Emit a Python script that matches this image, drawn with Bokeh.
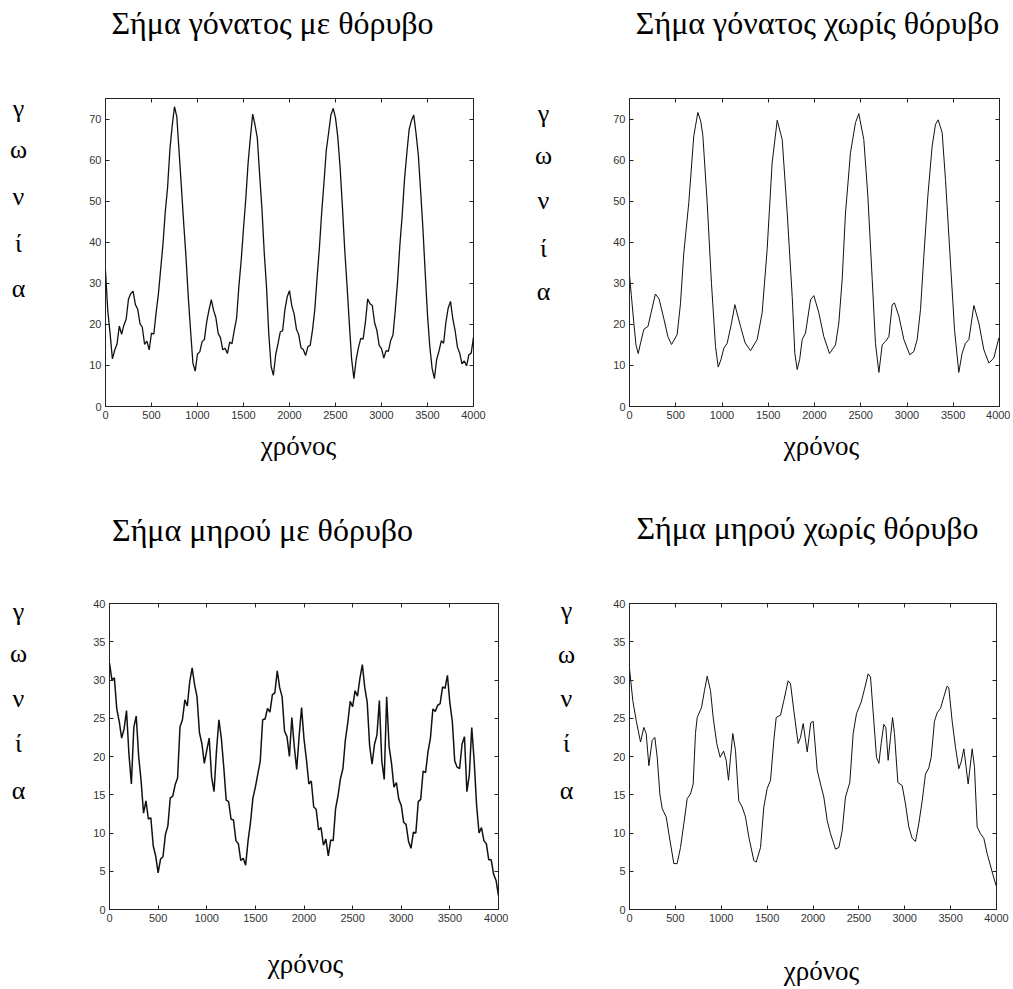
from bokeh.plotting import figure
from bokeh.models import LinearAxis, FixedTicker, Range1d
from bokeh.core.properties import value
from bokeh.layouts import column, row
from bokeh.embed import file_html
from bokeh.resources import INLINE

# ---------------- data ----------------
x_ticks = [0, 500, 1000, 1500, 2000, 2500, 3000, 3500, 4000]
knee_y_ticks = [0, 10, 20, 30, 40, 50, 60, 70]
thigh_y_ticks = [0, 5, 10, 15, 20, 25, 30, 35, 40]

titles = ["Σήμα γόνατος με θόρυβο", "Σήμα γόνατος χωρίς θόρυβο",
          "Σήμα μηρού με θόρυβο", "Σήμα μηρού χωρίς θόρυβο"]
y_letters = ["γ", "ω", "ν", "ί", "α"]
x_label = "χρόνος"

# noisy signals sampled every 25 time units (0 .. 4000)
noisy_time = list(range(0, 4001, 25))
knee_noisy = [
    33.0, 23.2, 17.8, 11.6, 13.7, 15.2, 19.6, 17.6,
    19.8, 21.3, 26.2, 27.5, 28.1, 24.8, 23.7, 20.2,
    19.3, 15.1, 15.9, 13.8, 17.9, 17.6, 22.8, 27.4,
    33.5, 39.6, 47.5, 53.4, 62.6, 68.4, 73.0, 70.6,
    62.0, 53.4, 44.6, 36.4, 26.6, 18.4, 10.6, 8.6,
    12.8, 13.3, 15.8, 16.3, 20.6, 23.5, 26.0, 23.4,
    21.6, 17.8, 16.7, 13.8, 14.2, 12.9, 15.7, 15.3,
    18.6, 21.5, 29.3, 35.6, 43.4, 50.6, 59.3, 65.5,
    71.2, 68.6, 65.4, 56.6, 48.3, 37.6, 29.2, 17.6,
    9.8, 7.6, 12.6, 15.3, 18.2, 18.4, 23.6, 26.7,
    28.2, 24.5, 22.6, 18.9, 17.5, 14.3, 13.9, 12.4,
    14.6, 14.9, 18.6, 23.6, 31.4, 38.6, 47.3, 54.6,
    62.4, 66.6, 71.0, 72.6, 70.3, 65.6, 58.2, 48.7,
    38.3, 29.6, 20.3, 11.6, 6.8, 11.5, 14.4, 16.6,
    16.4, 20.5, 26.2, 25.0, 24.6, 20.4, 18.5, 14.9,
    14.1, 11.8, 13.6, 13.4, 16.1, 17.4, 23.5, 30.6,
    39.4, 46.6, 55.3, 61.6, 67.4, 69.6, 71.0, 66.6,
    61.3, 52.6, 43.4, 32.6, 22.3, 14.6, 9.3, 6.8,
    11.5, 13.5, 16.0, 15.4, 20.5, 24.0, 25.6, 21.4,
    18.5, 14.5, 13.0, 10.4, 11.1, 9.9, 12.6, 13.0,
    16.9,
]
thigh_noisy = [
    32.2, 30.0, 30.3, 26.2, 24.6, 22.4, 23.6, 26.0,
    20.3, 16.4, 23.8, 25.3, 20.0, 16.8, 12.6, 14.2,
    11.8, 12.0, 8.3, 7.0, 4.8, 6.6, 6.9, 9.8,
    10.9, 14.6, 14.8, 16.3, 17.2, 23.9, 24.8, 27.4,
    26.6, 29.8, 31.6, 29.4, 27.8, 23.1, 21.7, 19.1,
    20.8, 22.4, 17.3, 15.4, 20.7, 24.8, 22.4, 18.6,
    14.3, 14.1, 11.8, 11.7, 9.0, 8.6, 6.4, 6.7,
    5.8, 9.0, 11.4, 14.6, 16.0, 17.7, 19.4, 24.8,
    24.9, 26.3, 25.8, 28.1, 28.3, 31.2, 29.0, 27.8,
    23.3, 22.6, 20.0, 25.1, 21.3, 18.3, 22.7, 26.4,
    22.3, 19.6, 16.4, 16.8, 13.4, 13.1, 10.4, 10.7,
    8.4, 9.2, 7.0, 9.1, 9.0, 13.2, 14.9, 17.1,
    18.4, 22.1, 24.4, 27.2, 26.5, 28.6, 27.9, 30.2,
    32.0, 29.0, 27.1, 21.4, 19.0, 21.6, 22.8, 27.3,
    19.4, 17.0, 27.8, 21.3, 19.1, 16.0, 16.6, 14.4,
    13.6, 11.4, 11.1, 8.9, 8.0, 10.1, 10.0, 14.1,
    14.4, 18.1, 17.9, 20.6, 22.4, 26.2, 25.9, 26.7,
    26.9, 29.1, 28.9, 30.6, 27.0, 24.6, 19.4, 18.6,
    18.4, 21.6, 22.6, 15.4, 17.6, 23.8, 19.4, 13.6,
    10.0, 10.7, 9.0, 8.6, 6.5, 6.5, 4.6, 3.8,
    1.8,
]

knee_clean_t = [0, 20, 47, 70, 94, 120, 155, 200, 235, 280, 320, 370, 415, 455,
                515, 551, 587, 641, 695, 739, 770, 793, 840, 886, 930, 959, 990,
                1020, 1056, 1103, 1139, 1200, 1250, 1308, 1380, 1434, 1488, 1542,
                1597, 1651, 1705, 1759, 1787, 1813, 1840, 1867, 1903, 1957, 1993,
                2047, 2101, 2162, 2227, 2263, 2299, 2335, 2389, 2443, 2479, 2533,
                2577, 2624, 2659, 2696, 2732, 2768, 2804, 2840, 2865, 2912, 2966,
                3030, 3074, 3110, 3146, 3182, 3225, 3272, 3308, 3337, 3380, 3416,
                3470, 3514, 3560, 3596, 3632, 3669, 3723, 3777, 3831, 3885, 3939,
                3993]
knee_clean = [32, 27, 20.3, 15, 12.9, 15.5, 18.8, 19.5, 23, 27.4, 26.2, 21.5, 17,
              15.1, 17.5, 25, 37.4, 49.6, 65.9, 71.6, 69.5, 66, 49.6, 30, 14.6,
              9.6, 11.5, 14.2, 15.4, 20.3, 24.8, 19.5, 15.5, 13.6, 16.3, 22.8,
              38.2, 59.3, 69.7, 65, 47.1, 26.8, 13, 9, 11.5, 16.3, 17.9, 26, 27,
              22.8, 17, 12.9, 15, 20.3, 30.9, 47.1, 61.8, 69.1, 71.3, 65, 51.2,
              30.9, 15.4, 8.3, 15, 15.9, 17, 24.8, 25.2, 22, 16.3, 12.6, 13.4,
              16.3, 23.6, 36.6, 51.2, 63.4, 68.7, 69.8, 66.7, 55.3, 35, 18.7, 8.3,
              13, 15.4, 16.3, 24.6, 20.3, 13.8, 10.6, 11.8, 16.7]

thigh_clean_t = [0, 36, 73, 120, 156, 182, 211, 247, 276, 302, 331, 356, 400, 429,
                 483, 519, 556, 592, 629, 665, 694, 719, 738, 785, 817, 847, 883,
                 912, 951, 988, 1025, 1054, 1079, 1101, 1126, 1155, 1191, 1228,
                 1264, 1300, 1355, 1381, 1428, 1464, 1500, 1537, 1573, 1599, 1646,
                 1682, 1729, 1755, 1791, 1838, 1864, 1893, 1937, 1975, 2002, 2046,
                 2082, 2118, 2155, 2191, 2245, 2282, 2318, 2354, 2401, 2438, 2474,
                 2525, 2561, 2601, 2627, 2663, 2692, 2718, 2743, 2772, 2794, 2819,
                 2845, 2867, 2888, 2925, 2972, 3008, 3044, 3081, 3117, 3153, 3190,
                 3226, 3262, 3288, 3324, 3353, 3390, 3426, 3462, 3480, 3517, 3553,
                 3589, 3615, 3644, 3669, 3691, 3735, 3760, 3789, 3826, 3862, 3898,
                 3953, 3996]
thigh_clean = [31.5, 27.3, 24.7, 21.9, 23.8, 23, 18.8, 22.1, 22.5, 19.9, 15.1, 13.2,
               12.1, 9.9, 6, 6, 8.1, 11.2, 14.5, 15.1, 16.4, 23, 25.1, 26.4, 28.6,
               30.5, 28.6, 25.1, 21.7, 19.9, 20.7, 19.5, 16.9, 19.9, 23, 20.8, 14.2,
               13.4, 12.1, 9.5, 6.4, 6.2, 8.1, 13.4, 15.8, 16.9, 22.1, 25.1, 25.4,
               27.3, 29.9, 29.5, 26, 21.7, 22.5, 24.3, 20.6, 24.4, 24.6, 18.2, 16.4,
               14.7, 11.6, 9.9, 7.9, 8.1, 10.3, 14.7, 16.6, 23, 25.6, 27.1, 28.8,
               30.8, 30.4, 24.6, 19.9, 19.1, 21.7, 24.2, 23.8, 19.5, 22.5, 25.1, 23,
               16.6, 16.2, 13.8, 10.8, 9.3, 8.9, 11.2, 14.2, 17.7, 18.5, 19.9, 24.6,
               25.7, 26.3, 27.8, 29.2, 29, 24.6, 21.2, 18.4, 19.3, 21, 18.6, 16.4,
               21, 18.6, 10.8, 9.9, 9.3, 7.3, 4.9, 3.1]

SERIF = "Liberation Serif"
SANS = "Liberation Sans"


def text_fig(w, h, xs, ys, texts, size, bt=0, bb=0):
    """Borderless text canvas; coordinates are canvas pixels, y pointing down."""
    f = figure(width=w, height=h, output_backend="svg", toolbar_location=None,
               title=None, x_range=Range1d(0, w), y_range=Range1d(h - bb, bt),
               x_axis_type=None, y_axis_type=None, min_border=0,
               min_border_top=bt, min_border_bottom=bb)
    f.grid.visible = False
    f.outline_line_color = None
    f.background_fill_color = "white"
    f.border_fill_color = "white"
    f.text(x=xs, y=ys, text=texts, text_font=value(SERIF),
           text_font_size=value(f"{size}px"), text_align="center",
           text_baseline="alphabetic", text_color="black")
    return f


def plot_fig(w, h, bl, br, bt, bb, ymax, yticks, t, y, lw):
    p = figure(width=w, height=h, output_backend="svg", toolbar_location=None,
               title=None, x_range=Range1d(0, 4000), y_range=Range1d(0, ymax),
               min_border_left=bl, min_border_right=br,
               min_border_top=bt, min_border_bottom=bb)
    p.grid.visible = False
    p.outline_line_color = "#222222"
    p.outline_line_width = 1
    p.background_fill_color = "white"
    p.border_fill_color = "white"
    for ax in (p.xaxis[0], p.yaxis[0]):
        ax.major_tick_in = 4
        ax.major_tick_out = 0
        ax.minor_tick_line_color = None
        ax.axis_line_color = "#222222"
        ax.major_tick_line_color = "#222222"
        ax.major_label_text_font = SANS
        ax.major_label_text_font_size = "11px"
        ax.major_label_text_color = "#333333"
        ax.major_label_standoff = 4
    p.xaxis[0].ticker = FixedTicker(ticks=x_ticks)
    p.yaxis[0].ticker = FixedTicker(ticks=yticks)
    for loc, tk in (("right", yticks), ("above", x_ticks)):
        ax = LinearAxis(ticker=FixedTicker(ticks=tk), major_tick_in=4,
                        major_tick_out=0, minor_tick_line_color=None,
                        axis_line_color=None, major_tick_line_color="#222222",
                        major_label_text_color=None, major_label_standoff=0,
                        major_label_text_font_size="1px")
        p.add_layout(ax, loc)
    p.line(t, y, line_color="#111111", line_width=lw)
    return p


def quadrant(W, title_h, mid_h, xlab_h, letters_w, title, title_xy,
             letters_x, letters_base, xlab_xy, plot_borders, ymax, yticks,
             t, y, lw):
    bl, br, bt, bb = plot_borders
    tf = text_fig(W, title_h, [title_xy[0]], [title_xy[1]], [title], 32)
    lf = text_fig(letters_w, mid_h, [letters_x] * len(y_letters), letters_base,
                  y_letters, 26, bt=bt, bb=bb)
    pf = plot_fig(W - letters_w, mid_h, bl, br, bt, bb, ymax, yticks, t, y, lw)
    xf = text_fig(W, xlab_h, [xlab_xy[0]], [xlab_xy[1]], [x_label], 27)
    return column(tf, row(lf, pf), xf)


qA = quadrant(508, 78, 352, 42, 68, titles[0], (272, 22),
              18, [30, 71, 118, 165, 210], (298, 15),
              (37, 35, 20, 24), 75, knee_y_ticks, noisy_time, knee_noisy, 1.3)
qB = quadrant(502, 78, 352, 42, 60, titles[1], (309, 22),
              35, [35, 77, 122, 170, 213], (313, 15),
              (61, 11, 20, 24), 75, knee_y_ticks, knee_clean_t, knee_clean, 1.0)
qC = quadrant(508, 90, 378, 48, 68, titles[2], (262, 57),
              18, [49, 91, 136, 181, 228], (305, 23),
              (41, 10, 41, 31), 40, thigh_y_ticks, noisy_time, thigh_noisy, 1.5)
qD = quadrant(502, 90, 378, 48, 80, titles[3], (299, 55),
              58, [48, 92, 136, 181, 228], (313, 30),
              (41, 14, 41, 31), 40, thigh_y_ticks, thigh_clean_t, thigh_clean, 1.0)

layout = column(row(qA, qB), row(qC, qD))
open("out.html", "w").write(file_html(layout, INLINE))
